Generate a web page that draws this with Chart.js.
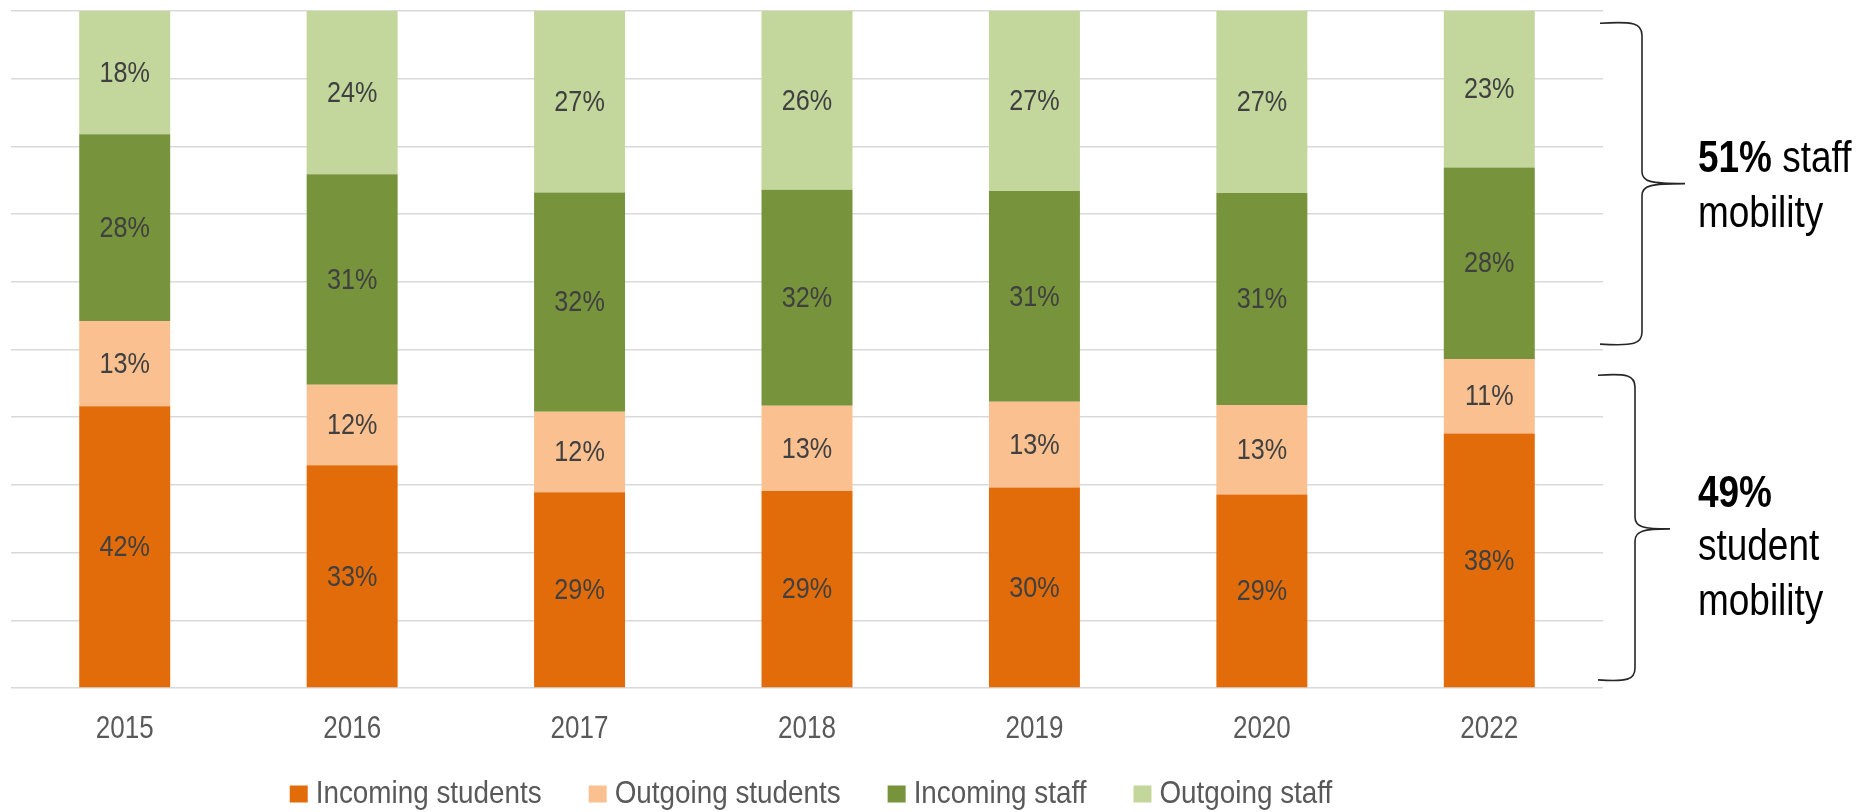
<!DOCTYPE html>
<html>
<head>
<meta charset="utf-8">
<script src="https://cdn.jsdelivr.net/npm/chart.js@4/dist/chart.umd.min.js"></script>
<style>
  body { margin: 0; background: #fff; }
  .wrap { width: 1856px; height: 812px; position: relative; }
</style>
</head>
<body>
<div class="wrap"><canvas id="mobilityChart"></canvas></div>
<script>
// Data (shares in %)
const years = ["2015", "2016", "2017", "2018", "2019", "2020", "2022"];
const incomingStudents = [41.6, 32.9, 28.9, 29.1, 29.6, 28.6, 37.6];
const outgoingStudents = [12.6, 11.9, 11.9, 12.6, 12.7, 13.2, 11.0];
const incomingStaff = [27.6, 31.1, 32.4, 31.9, 31.1, 31.3, 28.3];
const outgoingStaff = [18.2, 24.1, 26.8, 26.4, 26.6, 26.9, 23.1];
const yTicks = [0, 10, 20, 30, 40, 50, 60, 70, 80, 90, 100];

const FONT = '"Liberation Sans", Arial, sans-serif';
const SQUEEZE = 0.84; // condensed look of the original font

// draw text squeezed horizontally around its anchor
function narrowText(ctx, text, x, y, align, sq) {
  ctx.save();
  ctx.translate(x, y);
  ctx.scale(sq || SQUEEZE, 1);
  ctx.textAlign = align || "center";
  ctx.fillText(text, 0, 0);
  ctx.restore();
}

function narrowWidth(ctx, text, sq) {
  return ctx.measureText(text).width * (sq || SQUEEZE);
}

// Percent labels in the middle of each segment
const segmentLabels = {
  id: "segmentLabels",
  afterDatasetsDraw(chart) {
    const ctx = chart.ctx;
    ctx.save();
    ctx.font = "30px " + FONT;
    ctx.fillStyle = "#404040";
    ctx.textBaseline = "middle";
    chart.data.datasets.forEach((ds, i) => {
      chart.getDatasetMeta(i).data.forEach((bar, j) => {
        const mid = (bar.y + bar.base) / 2;
        narrowText(ctx, Math.round(ds.data[j]) + "%", bar.x, mid + 1);
      });
    });
    ctx.restore();
  },
};

// Year labels under the bars + legend row
const axisAndLegend = {
  id: "axisAndLegend",
  afterDraw(chart) {
    const ctx = chart.ctx;
    const x = chart.scales.x;
    const area = chart.chartArea;
    ctx.save();
    ctx.font = "31px " + FONT;
    ctx.fillStyle = "#595959";
    ctx.textBaseline = "middle";
    years.forEach((yr, i) => {
      narrowText(ctx, yr, x.getPixelForValue(i), area.bottom + 41);
    });

    // legend
    const sq = 0.87;
    const boxW = 18, boxH = 17, gap = 8, spacing = 47;
    ctx.font = "32px " + FONT;
    const items = chart.data.datasets.map((ds) => ({
      text: ds.label,
      color: ds.backgroundColor,
      w: boxW + gap + narrowWidth(ctx, ds.label, sq),
    }));
    const total = items.reduce((s, it) => s + it.w, 0) + spacing * (items.length - 1);
    let lx = (area.left + area.right) / 2 + 4 - total / 2;
    const ly = area.bottom + 105;
    items.forEach((it) => {
      ctx.fillStyle = it.color;
      ctx.fillRect(lx, ly - boxH / 2 + 1, boxW, boxH);
      ctx.fillStyle = "#595959";
      narrowText(ctx, it.text, lx + boxW + gap, ly + 1, "left", sq);
      lx += it.w + spacing;
    });
    ctx.restore();
  },
};

// Curly braces + notes on the right
function drawBrace(ctx, x0, x1, xTip, yTop, yBot, yMid) {
  ctx.beginPath();
  ctx.moveTo(x0, yTop);
  ctx.bezierCurveTo(x1 - 8, yTop - 2, x1, yTop, x1, yTop + 12);
  ctx.lineTo(x1, yMid - 12);
  ctx.bezierCurveTo(x1, yMid - 2, x1 + 8, yMid, xTip, yMid);
  ctx.bezierCurveTo(x1 + 8, yMid, x1, yMid + 2, x1, yMid + 12);
  ctx.lineTo(x1, yBot - 12);
  ctx.bezierCurveTo(x1, yBot, x1 - 8, yBot + 2, x0, yBot);
  ctx.stroke();
}

const braceNotes = {
  id: "braceNotes",
  afterDraw(chart) {
    const ctx = chart.ctx;
    const y = chart.scales.y;
    const right = chart.chartArea.right;
    ctx.save();
    ctx.strokeStyle = "#262626";
    ctx.lineWidth = 1.6;
    drawBrace(ctx, right - 3, right + 39, right + 82,
      y.getPixelForValue(98.2), y.getPixelForValue(50.8), y.getPixelForValue(74.5));
    drawBrace(ctx, right - 5, right + 32, right + 67,
      y.getPixelForValue(46.2), y.getPixelForValue(1.2), y.getPixelForValue(23.5));

    const tx = right + 95;
    ctx.fillStyle = "#000";
    ctx.textBaseline = "alphabetic";
    ctx.font = "bold 44px " + FONT;
    narrowText(ctx, "51%", tx, 172, "left");
    const w = narrowWidth(ctx, "51% ");
    ctx.font = "44px " + FONT;
    narrowText(ctx, "staff", tx + w, 172, "left");
    narrowText(ctx, "mobility", tx, 227, "left");
    ctx.font = "bold 44px " + FONT;
    narrowText(ctx, "49%", tx, 507, "left");
    ctx.font = "44px " + FONT;
    narrowText(ctx, "student", tx, 560, "left");
    narrowText(ctx, "mobility", tx, 615, "left");
    ctx.restore();
  },
};

const ctx = document.getElementById("mobilityChart").getContext("2d");
new Chart(ctx, {
  type: "bar",
  data: {
    labels: years,
    datasets: [
      { label: "Incoming students", data: incomingStudents, backgroundColor: "#E36C0A" },
      { label: "Outgoing students", data: outgoingStudents, backgroundColor: "#FAC090" },
      { label: "Incoming staff", data: incomingStaff, backgroundColor: "#77933C" },
      { label: "Outgoing staff", data: outgoingStaff, backgroundColor: "#C3D69B" },
    ],
  },
  options: {
    responsive: true,
    maintainAspectRatio: false,
    animation: false,
    layout: { padding: { top: 11, left: 11, right: 253, bottom: 124 } },
    datasets: { bar: { categoryPercentage: 0.8, barPercentage: 0.5 } },
    scales: {
      x: {
        stacked: true,
        grid: { display: false, drawTicks: false },
        border: { display: false },
        ticks: { display: false },
      },
      y: {
        stacked: true,
        min: 0,
        max: 100,
        afterBuildTicks: (axis) => { axis.ticks = yTicks.map((v) => ({ value: v })); },
        ticks: { display: false },
        grid: { color: "#D9D9D9", lineWidth: 1.5, drawTicks: false },
        border: { display: false },
      },
    },
    plugins: {
      legend: { display: false },
      tooltip: { enabled: false },
    },
  },
  plugins: [segmentLabels, axisAndLegend, braceNotes],
});
</script>
</body>
</html>
